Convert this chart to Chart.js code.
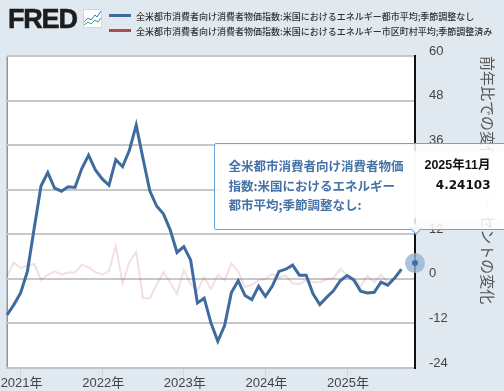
<!DOCTYPE html>
<html lang="ja">
<head>
<meta charset="utf-8">
<title>FRED</title>
<script src="https://cdn.jsdelivr.net/npm/chart.js@4"></script>
<style>
  html, body { margin: 0; padding: 0; width: 504px; height: 391px; overflow: hidden; background: #e1e9f0; }
  body { position: relative; font-family: 'Liberation Sans', 'Noto Sans CJK JP', sans-serif; }
  #wrap { position: absolute; left: 0; top: 0; width: 504px; height: 391px; }
  #logo { position: absolute; left: 8px; top: 2px; font: bold 27px/34px 'Liberation Sans', sans-serif; letter-spacing: -1.2px; color: #1d1d1d; -webkit-text-stroke: 0.6px #1d1d1d; }
  #logoIcon { position: absolute; left: 83px; top: 9px; }
  #legend { position: absolute; left: 109px; top: 9px; font: 500 9px/15px 'Noto Sans CJK JP', sans-serif; color: #333; white-space: nowrap; }
  #legend i { display: inline-block; width: 22px; height: 3px; margin-right: 5px; vertical-align: 3px; }
  #tip { position: absolute; box-sizing: border-box; width: 310px; height: 87px; background: rgba(255,255,255,.85); border: 1px solid #6ba5d7; border-radius: 2px; }
  #tip .panel { position: absolute; left: 6px; top: 7px; width: 290px; height: 67px; background: rgba(255,255,255,.85); }
  #tip .name { position: absolute; left: 14px; top: 12px; width: 178px; font: bold 12.5px/19.5px 'Noto Sans CJK JP', sans-serif; color: #4572a7; }
  #tip .when, #tip .val { position: absolute; right: 32px; color: #111; white-space: nowrap; }
  #tip .when { top: 12px; font: bold 12.5px/19.5px 'Liberation Sans', 'Noto Sans CJK JP', sans-serif; }
  #tip .val { top: 32px; font: bold 12px/19.5px 'DejaVu Sans', sans-serif; }
  #tip .arrow { position: absolute; width: 7px; height: 7px; background: #f4f8fb; border-right: 1px solid #6ba5d7; border-bottom: 1px solid #6ba5d7; transform: rotate(45deg); }
</style>
</head>
<body>
<div id="wrap"><canvas id="chart" width="504" height="391"></canvas></div>
<div id="logo">FRED</div>
<svg id="logoIcon" width="19" height="19" viewBox="0 0 19 19">
  <rect x="0.5" y="0.5" width="18" height="18" fill="#fff" stroke="#cfd6dc"/>
  <polyline points="1,13 5,9 8,11 12,6 14,8 18,2" fill="none" stroke="#3b7cc4" stroke-width="1"/>
  <polyline points="1,16 5,13 8,15 12,11 15,13 18,9" fill="none" stroke="#3f9a7a" stroke-width="1"/>
</svg>
<div id="legend"></div>
<div id="tip"></div>

<script>
// 前年比 (%); 2025-10 is missing in the source
const months = [
  '2020-11','2020-12',
  '2021-01','2021-02','2021-03','2021-04','2021-05','2021-06','2021-07','2021-08','2021-09','2021-10','2021-11','2021-12',
  '2022-01','2022-02','2022-03','2022-04','2022-05','2022-06','2022-07','2022-08','2022-09','2022-10','2022-11','2022-12',
  '2023-01','2023-02','2023-03','2023-04','2023-05','2023-06','2023-07','2023-08','2023-09','2023-10','2023-11','2023-12',
  '2024-01','2024-02','2024-03','2024-04','2024-05','2024-06','2024-07','2024-08','2024-09','2024-10','2024-11','2024-12',
  '2025-01','2025-02','2025-03','2025-04','2025-05','2025-06','2025-07','2025-08','2025-09','2025-10','2025-11'
];
const cityEnergy = [
  -9.7, -7,
  -3.8, 2, 13.6, 25, 28.6, 24.4, 23.6, 24.8, 24.6, 29.7, 33.3, 29.3,
  26.9, 25.2, 32.1, 30.2, 34.6, 41.4, 32.4, 23.7, 19.6, 17.5, 13.2, 7.1,
  8.7, 5.1, -6.5, -5.2, -11.9, -16.8, -12.6, -3.7, -0.5, -4.5, -5.6, -2,
  -4.7, -2, 2, 2.6, 3.7, 1, 1, -4, -6.9, -5, -3.2, -0.5,
  0.9, -0.3, -3.3, -3.8, -3.6, -0.9, -1.7, 0.2, 2.6, null, 4.24103
];
const ruralEnergy = [
  0.6, 4.4,
  2.9, 3.6, 4, -0.3, 1.1, 2, 1.2, 1.7, 1.7, 3.8, 3.1, 1.8,
  1.1, 2.1, 8.9, -1.3, 4.5, 7.3, -5.2, -5.2, -1.6, 1.8, -1, -4,
  2.4, -1.4, -3.2, 0.4, -2.7, 1.1, -0.4, 4.2, 2, -2.2, -1.6, -0.4,
  0, 1.3, 0.4, 0.9, -1.2, -1.4, -0.4, -0.9, -0.9, -0.1, 0.2, 2.6,
  1.1, 0.2, -2, 0.8, -0.9, 1.1, -0.9, 0.2, 1.8, null, null
];
const yTicks = [60, 48, 36, 24, 12, 0, -12, -24];
const cityLabel = '全米都市消費者向け消費者物価指数:米国におけるエネルギー都市平均;季節調整なし';
const ruralLabel = '全米都市消費者向け消費者物価指数:米国におけるエネルギー市区町村平均;季節調整済み';
const tipName = '全米都市消費者向け消費者物価指数:米国におけるエネルギー都市平均;季節調整なし:';
const tipWhen = '2025年11月';
const axisTitle = '前年比での変化　  パーセントの変化';

const BLUE = '#3f6c9e';
const RED = '#b04a4e';
const FONT = "'Liberation Sans', 'Noto Sans CJK JP', sans-serif";
const lastIndex = months.length - 1;
const isJanuary = i => months[i].endsWith('-01');

// white plot area, left rule and the hover halo
const plotBackground = {
  id: 'plotBackground',
  beforeDraw(chart) {
    const { ctx, chartArea: a } = chart;
    ctx.save();
    ctx.fillStyle = '#fff';
    ctx.fillRect(a.left, a.top, a.width, a.height);
    ctx.fillStyle = '#8f959b';
    ctx.fillRect(a.left - 0.5, a.top, 1.5, a.height);
    ctx.restore();
  },
  afterDatasetsDraw(chart) {
    const pt = chart.getDatasetMeta(0).data[lastIndex];
    const { ctx } = chart;
    ctx.save();
    ctx.fillStyle = 'rgba(150,180,212,.8)';
    ctx.beginPath();
    ctx.arc(pt.x, pt.y, 10, 0, Math.PI * 2);
    ctx.fill();
    ctx.fillStyle = '#3d6fb0';
    ctx.beginPath();
    ctx.arc(pt.x, pt.y, 3, 0, Math.PI * 2);
    ctx.fill();
    ctx.restore();
  }
};

function renderTooltip({ chart, tooltip }) {
  const el = document.getElementById('tip');
  el.style.left = (tooltip.caretX - 201.5) + 'px';
  el.style.top = (tooltip.caretY - 120) + 'px';
  el.innerHTML = `
    <div class="panel"></div>
    <div class="name">${tipName}</div>
    <div class="when">${tipWhen}</div>
    <div class="val">${chart.data.datasets[0].data[lastIndex].toFixed(5)}</div>
    <div class="arrow" style="left:197px;top:81px"></div>
  `;
}

const chart = new Chart(document.getElementById('chart'), {
  type: 'line',
  data: {
    labels: months,
    datasets: [
      {
        label: cityLabel,
        data: cityEnergy,
        borderColor: BLUE,
        borderWidth: 3,
        pointRadius: 0,
        tension: 0,
        spanGaps: false,
        order: 1
      },
      {
        label: ruralLabel,
        data: ruralEnergy,
        borderColor: 'rgba(176,74,78,.17)',
        borderWidth: 2,
        pointRadius: 0,
        tension: 0,
        spanGaps: false,
        order: 2
      }
    ]
  },
  plugins: [plotBackground],
  options: {
    responsive: false,
    animation: false,
    events: [],
    layout: { padding: { left: 7, top: 56 } },
    plugins: {
      legend: { display: false },
      tooltip: { enabled: false, external: renderTooltip }
    },
    scales: {
      x: {
        afterFit: s => { s.height = 23; },
        border: { color: '#bcc4ce', width: 2 },
        grid: {
          drawOnChartArea: false,
          tickLength: 9,
          tickWidth: 1,
          tickColor: ctx => isJanuary(ctx.index) ? '#ccd6e6' : 'rgba(0,0,0,0)'
        },
        ticks: {
          autoSkip: false,
          maxRotation: 0,
          padding: -1,
          labelOffset: 1,
          color: '#444',
          font: { family: FONT, size: 13 },
          callback: (v, i) => isJanuary(i) ? months[i].slice(0, 4) + '年' : ''
        }
      },
      y: {
        position: 'right',
        min: -24,
        max: 60,
        afterFit: s => { s.width = 89; },
        afterBuildTicks: s => { s.ticks = yTicks.map(value => ({ value })); },
        border: { color: '#111', width: 2 },
        grid: { color: '#c8c8c8', lineWidth: 2, drawTicks: false },
        title: {
          display: true,
          text: axisTitle,
          align: 'end',
          color: '#555',
          padding: { top: 9, bottom: 2 },
          font: { family: FONT, size: 15 }
        },
        ticks: {
          padding: 14,
          labelOffset: -5,
          color: '#444',
          font: { family: FONT, size: 13 }
        }
      }
    }
  }
});

// html legend, same entries as the chart's datasets
document.getElementById('legend').innerHTML = [
  { text: chart.data.datasets[0].label, color: BLUE },
  { text: chart.data.datasets[1].label, color: RED }
].map(item => `<div><i style="background:${item.color}"></i>${item.text}</div>`).join('');

// keep the Nov 2025 tooltip open like the hovered original
chart.tooltip.setActiveElements([{ datasetIndex: 0, index: lastIndex }], { x: 415, y: 263 });
chart.update();
</script>
</body>
</html>
